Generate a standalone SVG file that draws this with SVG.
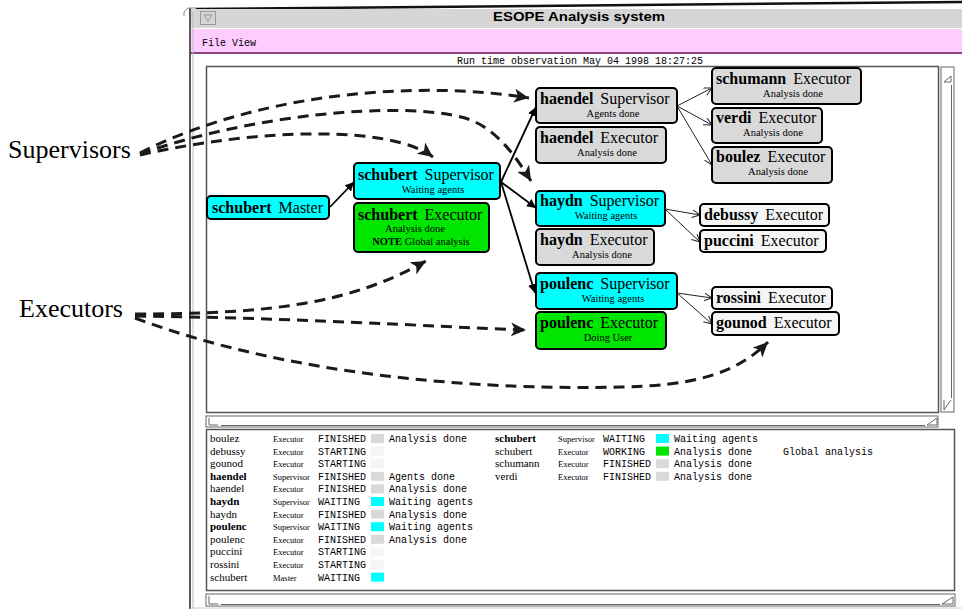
<svg xmlns="http://www.w3.org/2000/svg" width="962" height="609" viewBox="0 0 962 609">
<style>
.lbl{font-family:"Liberation Serif","Times New Roman",serif;font-size:16px;fill:#000}
.b{font-weight:bold}
.sub{font-family:"Liberation Serif","Times New Roman",serif;font-size:10.5px;fill:#000;text-anchor:middle}
.big{font-family:"Liberation Serif","Times New Roman",serif;font-size:26px;fill:#000}
.mono{font-family:"Liberation Mono","Courier New",monospace;font-size:10px;fill:#000}
.tn{font-family:"Liberation Serif","Times New Roman",serif;font-size:11px;fill:#000}
.tr{font-family:"Liberation Serif","Times New Roman",serif;font-size:8.5px;fill:#000}
.box{stroke:#000;stroke-width:2}
.cy{fill:#00ffff}.gr{fill:#00e600}.gy{fill:#d9d9d9}.wh{fill:#f5f5f5}
.sw{stroke:none}
.solid{fill:none;stroke:#000;stroke-width:1.8}
.thin{fill:none;stroke:#222;stroke-width:1}
.dash{fill:none;stroke:#1a1a1a;stroke-width:3;stroke-dasharray:11 7}
.frame{fill:#fff;stroke:#555;stroke-width:1.5}
.sb{fill:#fff;stroke:#666;stroke-width:1}
.arr{fill:none;stroke:#666;stroke-width:1}
</style>
<defs>
<marker id="ah" markerUnits="userSpaceOnUse" markerWidth="18" markerHeight="14" refX="15" refY="7" orient="auto"><path d="M0,0 L15,7 L0,14 L4,7 Z" fill="#1a1a1a"/></marker>
<marker id="as" markerUnits="userSpaceOnUse" markerWidth="11" markerHeight="9" refX="9" refY="4.5" orient="auto"><path d="M0,0 L9,4.5 L0,9 Z" fill="#000"/></marker>
<marker id="ao" markerUnits="userSpaceOnUse" markerWidth="10" markerHeight="10" refX="8" refY="4" orient="auto"><path d="M0,0 L8,4 L0,8" fill="none" stroke="#222" stroke-width="1"/></marker>
</defs>
<rect width="962" height="609" fill="#fff"/>

<g id="window">
<path d="M196,9 L962,2" stroke="#111" stroke-width="2.5" fill="none"/>
<rect x="191" y="9" width="771" height="19" fill="#d6d6d6"/>
<line x1="191" y1="28.5" x2="962" y2="28.5" stroke="#fff" stroke-width="1"/>
<rect x="200.5" y="11.5" width="15" height="13" fill="#d6d6d6" stroke="#999"/>
<path d="M204,15 L212,15 L208,21 Z" fill="none" stroke="#888" stroke-width="0.8"/>
<text x="579" y="21" font-family="Liberation Sans,Arial,sans-serif" font-weight="bold" font-size="12" text-anchor="middle" textLength="172" lengthAdjust="spacingAndGlyphs">ESOPE Analysis system</text>
<rect x="191" y="29" width="771" height="24" fill="#ffccff"/>
<line x1="191" y1="53" x2="962" y2="53" stroke="#884488" stroke-width="2"/>
<text x="202" y="46" class="mono">File View</text>
<text x="580" y="64" class="mono" text-anchor="middle">Run time observation May 04 1998 18:27:25</text>
<line x1="190" y1="8" x2="190" y2="609" stroke="#222" stroke-width="1.5"/>
<line x1="193" y1="12" x2="193" y2="609" stroke="#bbb" stroke-width="1"/>
<path d="M184,16 L184,12 L188,8 L196,8" fill="none" stroke="#888" stroke-width="1"/>
<rect x="206.5" y="66.5" width="732" height="346" class="frame"/>
<rect x="941" y="67" width="13" height="345" class="sb"/>
<line x1="951.5" y1="85" x2="951.5" y2="398" stroke="#666"/>
<path d="M944,82 L951,82 L951,76 Z" class="arr"/>
<path d="M944,400 L944,410 L951,400" class="arr"/>
<rect x="206" y="416" width="732" height="11" class="sb"/>
<line x1="221" y1="425.5" x2="925" y2="425.5" stroke="#666"/>
<path d="M209,418 L209,425 L218,425" class="arr"/>
<path d="M927,425 L937,425 L937,418 Z" class="arr"/>
<rect x="206.5" y="429.5" width="748" height="161" class="frame"/>
<rect x="206" y="594" width="749" height="12" class="sb"/>
<line x1="221" y1="604.5" x2="940" y2="604.5" stroke="#666"/>
<path d="M209,596 L209,604 L218,604" class="arr"/>
<path d="M942,604 L953,604 L953,597 Z" class="arr"/>
<line x1="190" y1="608" x2="962" y2="608" stroke="#ccc" stroke-width="1"/>
</g>

<g id="connectors">
<path d="M330,207 L354,182" class="solid" marker-end="url(#as)"/>
<path d="M501,182 L536,107" class="solid" marker-end="url(#as)"/>
<path d="M501,182 L536,208" class="solid" marker-end="url(#as)"/>
<path d="M501,182 L535,293" class="solid" marker-end="url(#as)"/>
<path d="M677,106 L712,88" class="thin" marker-end="url(#ao)"/>
<path d="M677,106 L712,125" class="thin" marker-end="url(#ao)"/>
<path d="M677,106 L712,165" class="thin" marker-end="url(#ao)"/>
<path d="M665,209 L700,215" class="thin" marker-end="url(#ao)"/>
<path d="M665,209 L700,242" class="thin" marker-end="url(#ao)"/>
<path d="M677,293 L712,298" class="thin" marker-end="url(#ao)"/>
<path d="M677,293 L712,324" class="thin" marker-end="url(#ao)"/>
<path d="M140,153 C260,92 420,80 529,98" class="dash" marker-end="url(#ah)"/>
<path d="M140,154 C250,115 400,100 465,118 C495,127 515,155 531,181" class="dash" marker-end="url(#ah)"/>
<path d="M140,155 C260,128 390,125 433,157" class="dash" marker-end="url(#ah)"/>
<path d="M135,314 C270,314 350,304 426,261" class="dash" marker-end="url(#ah)"/>
<path d="M135,316 C300,318 420,326 526,330" class="dash" marker-end="url(#ah)"/>
<path d="M135,318 C300,380 500,390 620,387 C690,386 735,375 768,342" class="dash" marker-end="url(#ah)"/>
</g>

<g id="label-supervisors"><text x="8" y="158" class="big">Supervisors</text></g>
<g id="label-executors"><text x="19" y="317" class="big">Executors</text></g>

<g id="schubert-master"><rect x="207" y="196" width="122" height="23" rx="4" class="box cy"/><text x="212" y="213" class="lbl"><tspan class="b">schubert</tspan><tspan dx="3"> Master</tspan></text></g>
<g id="schubert-supervisor"><rect x="354" y="163" width="146" height="36" rx="4" class="box cy"/><text x="358" y="180" class="lbl"><tspan class="b">schubert</tspan><tspan dx="3"> Supervisor</tspan></text><text x="433" y="193" class="sub">Waiting agents</text></g>
<g id="schubert-executor"><rect x="354" y="203" width="135" height="49" rx="4" class="box gr"/><text x="358" y="220" class="lbl"><tspan class="b">schubert</tspan><tspan dx="3"> Executor</tspan></text><text x="415" y="232" class="sub">Analysis done</text><text x="421" y="245" class="sub"><tspan class="b">NOTE</tspan> Global analysis</text></g>
<g id="haendel-supervisor"><rect x="536" y="88" width="141" height="35" rx="4" class="box gy"/><text x="540" y="104" class="lbl"><tspan class="b">haendel</tspan><tspan dx="3"> Supervisor</tspan></text><text x="613" y="117" class="sub">Agents done</text></g>
<g id="haendel-executor"><rect x="536" y="127" width="130" height="36" rx="4" class="box gy"/><text x="540" y="143" class="lbl"><tspan class="b">haendel</tspan><tspan dx="3"> Executor</tspan></text><text x="607" y="156" class="sub">Analysis done</text></g>
<g id="schumann-executor"><rect x="712" y="68" width="149" height="36" rx="4" class="box gy"/><text x="716" y="84" class="lbl"><tspan class="b">schumann</tspan><tspan dx="3"> Executor</tspan></text><text x="793" y="97" class="sub">Analysis done</text></g>
<g id="verdi-executor"><rect x="712" y="108" width="110" height="35" rx="4" class="box gy"/><text x="716" y="123" class="lbl"><tspan class="b">verdi</tspan><tspan dx="3"> Executor</tspan></text><text x="773" y="136" class="sub">Analysis done</text></g>
<g id="boulez-executor"><rect x="712" y="147" width="120" height="36" rx="4" class="box gy"/><text x="716" y="162" class="lbl"><tspan class="b">boulez</tspan><tspan dx="3"> Executor</tspan></text><text x="778" y="175" class="sub">Analysis done</text></g>
<g id="haydn-supervisor"><rect x="536" y="191" width="129" height="35" rx="4" class="box cy"/><text x="540" y="206" class="lbl"><tspan class="b">haydn</tspan><tspan dx="3"> Supervisor</tspan></text><text x="606" y="219" class="sub">Waiting agents</text></g>
<g id="haydn-executor"><rect x="536" y="229" width="118" height="36" rx="4" class="box gy"/><text x="540" y="245" class="lbl"><tspan class="b">haydn</tspan><tspan dx="3"> Executor</tspan></text><text x="602" y="258" class="sub">Analysis done</text></g>
<g id="debussy-executor"><rect x="700" y="204" width="129" height="22" rx="4" class="box wh"/><text x="704" y="220" class="lbl"><tspan class="b">debussy</tspan><tspan dx="3"> Executor</tspan></text></g>
<g id="puccini-executor"><rect x="700" y="230" width="126" height="22" rx="4" class="box wh"/><text x="704" y="246" class="lbl"><tspan class="b">puccini</tspan><tspan dx="3"> Executor</tspan></text></g>
<g id="poulenc-supervisor"><rect x="536" y="273" width="141" height="36" rx="4" class="box cy"/><text x="540" y="289" class="lbl"><tspan class="b">poulenc</tspan><tspan dx="3"> Supervisor</tspan></text><text x="613" y="302" class="sub">Waiting agents</text></g>
<g id="poulenc-executor"><rect x="536" y="312" width="130" height="37" rx="4" class="box gr"/><text x="540" y="328" class="lbl"><tspan class="b">poulenc</tspan><tspan dx="3"> Executor</tspan></text><text x="608" y="341" class="sub">Doing User</text></g>
<g id="rossini-executor"><rect x="712" y="287" width="120" height="22" rx="4" class="box wh"/><text x="716" y="303" class="lbl"><tspan class="b">rossini</tspan><tspan dx="3"> Executor</tspan></text></g>
<g id="gounod-executor"><rect x="712" y="312" width="127" height="23" rx="4" class="box wh"/><text x="716" y="328" class="lbl"><tspan class="b">gounod</tspan><tspan dx="3"> Executor</tspan></text></g>

<g id="table">
<g class="tn">
<text x="210" y="442">boulez</text>
<text x="210" y="454.6">debussy</text>
<text x="210" y="467.2">gounod</text>
<text x="210" y="479.8" class="b">haendel</text>
<text x="210" y="492.4">haendel</text>
<text x="210" y="505" class="b">haydn</text>
<text x="210" y="517.6">haydn</text>
<text x="210" y="530.2" class="b">poulenc</text>
<text x="210" y="542.8">poulenc</text>
<text x="210" y="555.4">puccini</text>
<text x="210" y="568">rossini</text>
<text x="210" y="580.6">schubert</text>
<text x="495" y="442" class="b">schubert</text>
<text x="495" y="454.6">schubert</text>
<text x="495" y="467.2">schumann</text>
<text x="495" y="479.8">verdi</text>
</g>
<g class="tr">
<text x="273" y="442">Executor</text>
<text x="273" y="454.6">Executor</text>
<text x="273" y="467.2">Executor</text>
<text x="273" y="479.8">Supervisor</text>
<text x="273" y="492.4">Executor</text>
<text x="273" y="505">Supervisor</text>
<text x="273" y="517.6">Executor</text>
<text x="273" y="530.2">Supervisor</text>
<text x="273" y="542.8">Executor</text>
<text x="273" y="555.4">Executor</text>
<text x="273" y="568">Executor</text>
<text x="273" y="580.6">Master</text>
<text x="558" y="442">Supervisor</text>
<text x="558" y="454.6">Executor</text>
<text x="558" y="467.2">Executor</text>
<text x="558" y="479.8">Executor</text>
</g>
<g class="mono">
<text x="318" y="442">FINISHED</text>
<text x="318" y="454.6">STARTING</text>
<text x="318" y="467.2">STARTING</text>
<text x="318" y="479.8">FINISHED</text>
<text x="318" y="492.4">FINISHED</text>
<text x="318" y="505">WAITING</text>
<text x="318" y="517.6">FINISHED</text>
<text x="318" y="530.2">WAITING</text>
<text x="318" y="542.8">FINISHED</text>
<text x="318" y="555.4">STARTING</text>
<text x="318" y="568">STARTING</text>
<text x="318" y="580.6">WAITING</text>
<text x="389" y="442">Analysis done</text>
<text x="389" y="479.8">Agents done</text>
<text x="389" y="492.4">Analysis done</text>
<text x="389" y="505">Waiting agents</text>
<text x="389" y="517.6">Analysis done</text>
<text x="389" y="530.2">Waiting agents</text>
<text x="389" y="542.8">Analysis done</text>
<text x="603" y="442">WAITING</text>
<text x="603" y="454.6">WORKING</text>
<text x="603" y="467.2">FINISHED</text>
<text x="603" y="479.8">FINISHED</text>
<text x="674" y="442">Waiting agents</text>
<text x="674" y="454.6">Analysis done</text>
<text x="674" y="467.2">Analysis done</text>
<text x="674" y="479.8">Analysis done</text>
<text x="783" y="454.6">Global analysis</text>
</g>
<rect x="371" y="434" width="13" height="9" class="sw gy"/>
<rect x="371" y="446.6" width="13" height="9" class="sw wh"/>
<rect x="371" y="459.2" width="13" height="9" class="sw wh"/>
<rect x="371" y="471.8" width="13" height="9" class="sw gy"/>
<rect x="371" y="484.4" width="13" height="9" class="sw gy"/>
<rect x="371" y="497" width="13" height="9" class="sw cy"/>
<rect x="371" y="509.6" width="13" height="9" class="sw gy"/>
<rect x="371" y="522.2" width="13" height="9" class="sw cy"/>
<rect x="371" y="534.8" width="13" height="9" class="sw gy"/>
<rect x="371" y="547.4" width="13" height="9" class="sw wh"/>
<rect x="371" y="560" width="13" height="9" class="sw wh"/>
<rect x="371" y="572.6" width="13" height="9" class="sw cy"/>
<rect x="656" y="434" width="13" height="9" class="sw cy"/>
<rect x="656" y="446.6" width="13" height="9" class="sw gr"/>
<rect x="656" y="459.2" width="13" height="9" class="sw gy"/>
<rect x="656" y="471.8" width="13" height="9" class="sw gy"/>
</g>
</svg>
